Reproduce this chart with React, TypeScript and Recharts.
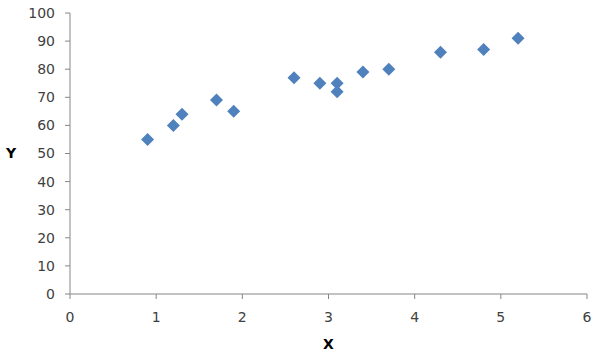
import { Scatter, ScatterChart, XAxis, YAxis } from "recharts";

const xValues = [0.9, 1.2, 1.3, 1.7, 1.9, 2.6, 2.9, 3.1, 3.1, 3.4, 3.7, 4.3, 4.8, 5.2];
const yValues = [55, 60, 64, 69, 65, 77, 75, 75, 72, 79, 80, 86, 87, 91];
const xTicks = [0, 1, 2, 3, 4, 5, 6];
const yTicks = [0, 10, 20, 30, 40, 50, 60, 70, 80, 90, 100];

const points = xValues.map((x, i) => ({ x, y: yValues[i] }));

const AXIS = "#868686";
const TEXT = "#404040";
const FONT = "'DejaVu Sans', Verdana, sans-serif";

function Diamond(props: { cx?: number; cy?: number }) {
  const { cx = 0, cy = 0 } = props;
  const r = 6.5;
  return (
    <path
      d={`M${cx},${cy - r} L${cx + r},${cy} L${cx},${cy + r} L${cx - r},${cy} Z`}
      fill="#4F81BD"
    />
  );
}

export default function App() {
  const tick = { fontSize: 14, fill: TEXT, fontFamily: FONT };
  return (
    <div style={{ position: "absolute", left: 0, top: 0, background: "#fff" }}>
      <ScatterChart
        width={600}
        height={356}
        margin={{ top: 13, right: 13, bottom: 0, left: 0 }}
      >
        <XAxis
          type="number"
          dataKey="x"
          domain={[0, 6]}
          ticks={xTicks}
          height={62}
          tick={tick}
          tickSize={5}
          tickMargin={13}
          stroke={AXIS}
          label={{
            value: "X",
            position: "insideBottom",
            offset: 7,
            fontSize: 14,
            fontWeight: "bold",
            fill: "#000",
            fontFamily: FONT,
          }}
        />
        <YAxis
          type="number"
          dataKey="y"
          domain={[0, 100]}
          ticks={yTicks}
          width={70}
          tick={tick}
          tickSize={5}
          tickMargin={10}
          stroke={AXIS}
          label={{
            value: "Y",
            position: "insideLeft",
            offset: 6,
            fontSize: 14,
            fontWeight: "bold",
            fill: "#000",
            fontFamily: FONT,
          }}
        />
        <Scatter data={points} shape={<Diamond />} isAnimationActive={false} />
      </ScatterChart>
    </div>
  );
}
